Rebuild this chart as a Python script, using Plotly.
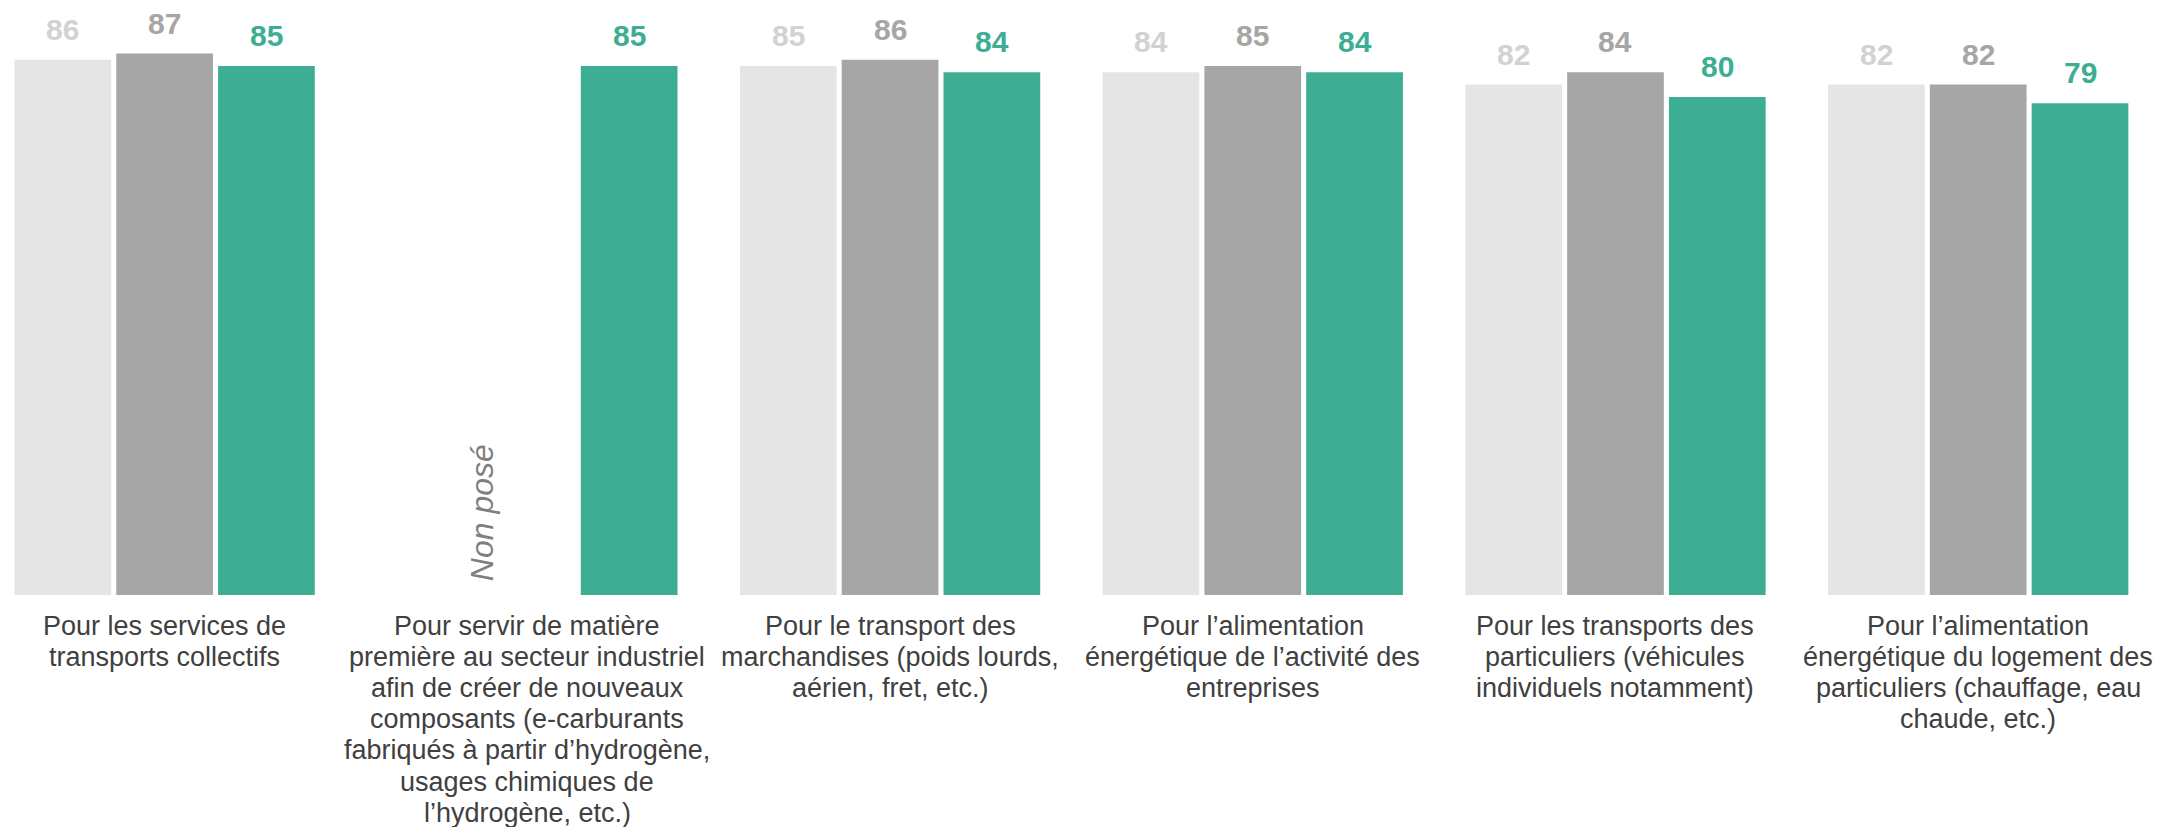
import plotly.graph_objects as go

categories = [
    "Pour les services de transports collectifs",
    "Pour servir de matière première au secteur industriel",
    "Pour le transport des marchandises",
    "Pour l’alimentation énergétique de l’activité des entreprises",
    "Pour les transports des particuliers",
    "Pour l’alimentation énergétique du logement des particuliers",
]
label_lines = [
    ["Pour les services de", "transports collectifs"],
    ["Pour servir de matière", "première au secteur industriel", "afin de créer de nouveaux",
     "composants (e-carburants", "fabriqués à partir d’hydrogène,", "usages chimiques de",
     "l’hydrogène, etc.)"],
    ["Pour le transport des", "marchandises (poids lourds,", "aérien, fret, etc.)"],
    ["Pour l’alimentation", "énergétique de l’activité des", "entreprises"],
    ["Pour les transports des", "particuliers (véhicules", "individuels notamment)"],
    ["Pour l’alimentation", "énergétique du logement des", "particuliers (chauffage, eau",
     "chaude, etc.)"],
]
series_names = ["Vague 1", "Vague 2", "Vague 3"]
values_1 = [86, None, 85, 84, 82, 82]
values_2 = [87, None, 86, 85, 84, 82]
values_3 = [85, 85, 84, 84, 80, 79]
not_asked_text = "Non posé"

bar_colors = ["#E5E5E5", "#A6A6A6", "#3DAE94"]
label_colors = ["#D2D2D2", "#A6A6A6", "#3DAE94"]

FONT = "Liberation Sans, Arial, sans-serif"
x_idx = list(range(len(categories)))
series = [values_1, values_2, values_3]

fig = go.Figure()
for name, vals, col in zip(series_names, series, bar_colors):
    fig.add_trace(go.Bar(x=x_idx, y=vals, name=name, marker=dict(color=col, line=dict(width=0)),
                         hoverinfo="skip"))

bargap = 0.158
slot = (1 - bargap) / 3

annotations = []
for j, (vals, lc) in enumerate(zip(series, label_colors)):
    for i, v in enumerate(vals):
        if v is None:
            continue
        annotations.append(dict(
            x=i + (j - 1) * slot, y=v, xref="x", yref="y", text=f"<b>{v}</b>",
            showarrow=False, yanchor="middle", xanchor="center", yshift=30.5,
            font=dict(family=FONT, size=30, color=lc)))

for i, lines in enumerate(label_lines):
    for k, line in enumerate(lines):
        annotations.append(dict(
            x=i, y=0, xref="x", yref="y", text=line, showarrow=False,
            yanchor="middle", xanchor="center", yshift=-(30.5 + k * 31.2),
            font=dict(family=FONT, size=27, color="#404040")))

annotations.append(dict(
    x=1 - 0.126, y=0, xref="x", yref="y", text=f"<i>{not_asked_text}</i>", showarrow=False,
    textangle=-90, yanchor="bottom", xanchor="center", yshift=12,
    font=dict(family=FONT, size=32, color="#7F7F7F")))

fig.update_layout(
    width=2161, height=819,
    margin=dict(l=0, r=0, t=0, b=232, pad=0),
    paper_bgcolor="white", plot_bgcolor="white",
    barmode="group", bargap=bargap, bargroupgap=0.05,
    showlegend=False,
    xaxis=dict(range=[-0.4318, 5.526], showticklabels=False, showgrid=False,
               zeroline=False, showline=False, ticks=""),
    yaxis=dict(range=[0, 94.31], showticklabels=False, showgrid=False,
               zeroline=False, showline=False, ticks=""),
    annotations=annotations,
)

fig.write_html("out.html")
